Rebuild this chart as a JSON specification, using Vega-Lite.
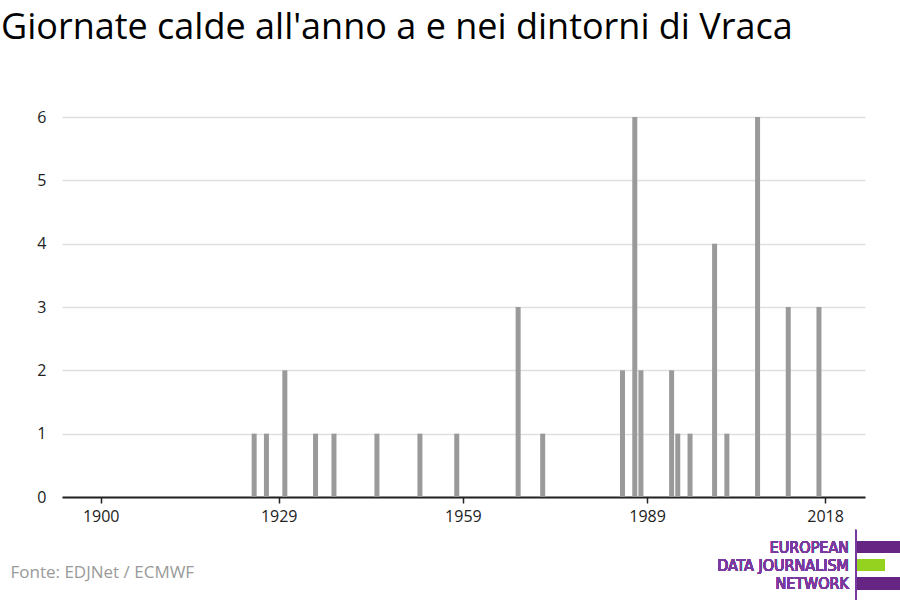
{
  "$schema": "https://vega.github.io/schema/vega-lite/v6.json",
  "autosize": "none",
  "width": 803,
  "height": 380,
  "padding": {"left": 62, "top": 117, "right": 35, "bottom": 103},
  "background": "white",
  "config": {
    "view": {"stroke": null},
    "font": "Open Sans",
    "axis": {"labelFont": "Open Sans", "titleFont": "Open Sans"}
  },
  "title": {
    "text": "Giornate calde all'anno a e nei dintorni di Vraca",
    "anchor": "start",
    "frame": "group",
    "dx": -61,
    "offset": 62,
    "font": "Open Sans",
    "fontSize": 36,
    "fontWeight": "normal",
    "color": "#000000"
  },
  "data": {
    "values": [
      {"year": 1925, "days": 1},
      {"year": 1927, "days": 1},
      {"year": 1930, "days": 2},
      {"year": 1935, "days": 1},
      {"year": 1938, "days": 1},
      {"year": 1945, "days": 1},
      {"year": 1952, "days": 1},
      {"year": 1958, "days": 1},
      {"year": 1968, "days": 3},
      {"year": 1972, "days": 1},
      {"year": 1985, "days": 2},
      {"year": 1987, "days": 6},
      {"year": 1988, "days": 2},
      {"year": 1993, "days": 2},
      {"year": 1994, "days": 1},
      {"year": 1996, "days": 1},
      {"year": 2000, "days": 4},
      {"year": 2002, "days": 1},
      {"year": 2007, "days": 6},
      {"year": 2012, "days": 3},
      {"year": 2017, "days": 3}
    ]
  },
  "layer": [
    {
      "mark": {"type": "bar", "color": "#9a9a9a", "size": 5},
      "encoding": {
        "x": {
          "field": "year",
          "type": "quantitative",
          "scale": {"domain": [1893.7, 2024.5], "nice": false, "zero": false, "padding": 0},
          "axis": {
            "values": [1900, 1929, 1959, 1989, 2018],
            "format": "d",
            "grid": false,
            "domainColor": "#222222",
            "domainWidth": 2,
            "tickColor": "#222222",
            "tickWidth": 1.5,
            "tickSize": 6,
            "labelFontSize": 16,
            "labelColor": "#222222",
            "labelPadding": 5,
            "title": "Fonte: EDJNet / ECMWF",
            "titleAnchor": "start",
            "titleAlign": "left",
            "titleBaseline": "alphabetic",
            "titleX": -52,
            "titleY": 80,
            "titleFontSize": 17,
            "titleFontWeight": "normal",
            "titleColor": "#9a9a9a"
          }
        },
        "y": {
          "field": "days",
          "type": "quantitative",
          "scale": {"domain": [0, 6], "nice": false},
          "axis": {
            "values": [0, 1, 2, 3, 4, 5, 6],
            "format": "d",
            "title": null,
            "domain": false,
            "ticks": false,
            "grid": true,
            "gridColor": "#e0e0e0",
            "gridWidth": 1.5,
            "labelFontSize": 16,
            "labelColor": "#222222",
            "labelPadding": 16
          }
        }
      }
    },
    {
      "mark": {"type": "rule", "color": "#7a3b9e", "strokeWidth": 1, "clip": false},
      "encoding": {
        "x": {"datum": 2023.0, "type": "quantitative"},
        "y": {"datum": -0.52, "type": "quantitative"},
        "y2": {"datum": -1.63}
      }
    },
    {
      "mark": {"type": "rect", "color": "#662483", "clip": false},
      "encoding": {
        "x": {"datum": 2023.2, "type": "quantitative"},
        "x2": {"datum": 2030.5},
        "y": {"datum": -0.695, "type": "quantitative"},
        "y2": {"datum": -0.884}
      }
    },
    {
      "mark": {"type": "rect", "color": "#95d11f", "clip": false},
      "encoding": {
        "x": {"datum": 2023.2, "type": "quantitative"},
        "x2": {"datum": 2027.7},
        "y": {"datum": -0.979, "type": "quantitative"},
        "y2": {"datum": -1.168}
      }
    },
    {
      "mark": {"type": "rect", "color": "#662483", "clip": false},
      "encoding": {
        "x": {"datum": 2023.2, "type": "quantitative"},
        "x2": {"datum": 2030.5},
        "y": {"datum": -1.263, "type": "quantitative"},
        "y2": {"datum": -1.468}
      }
    },
    {
      "mark": {"type": "text", "color": "#7a3b9e", "align": "right", "baseline": "alphabetic", "font": "DejaVu Sans Condensed, Liberation Sans", "fontSize": 16, "fontWeight": "normal", "clip": false},
      "encoding": {
        "x": {"datum": 2021.9, "type": "quantitative"},
        "y": {"datum": -0.889, "type": "quantitative"},
        "text": {"value": "EUROPEAN"}
      }
    },
    {
      "mark": {"type": "text", "color": "#7a3b9e", "align": "right", "baseline": "alphabetic", "font": "DejaVu Sans Condensed, Liberation Sans", "fontSize": 16, "fontWeight": "normal", "clip": false},
      "encoding": {
        "x": {"datum": 2021.9, "type": "quantitative"},
        "y": {"datum": -1.17, "type": "quantitative"},
        "text": {"value": "DATA JOURNALISM"}
      }
    },
    {
      "mark": {"type": "text", "color": "#7a3b9e", "align": "right", "baseline": "alphabetic", "font": "DejaVu Sans Condensed, Liberation Sans", "fontSize": 16, "fontWeight": "normal", "clip": false},
      "encoding": {
        "x": {"datum": 2021.9, "type": "quantitative"},
        "y": {"datum": -1.455, "type": "quantitative"},
        "text": {"value": "NETWORK"}
      }
    }
  ]
}
